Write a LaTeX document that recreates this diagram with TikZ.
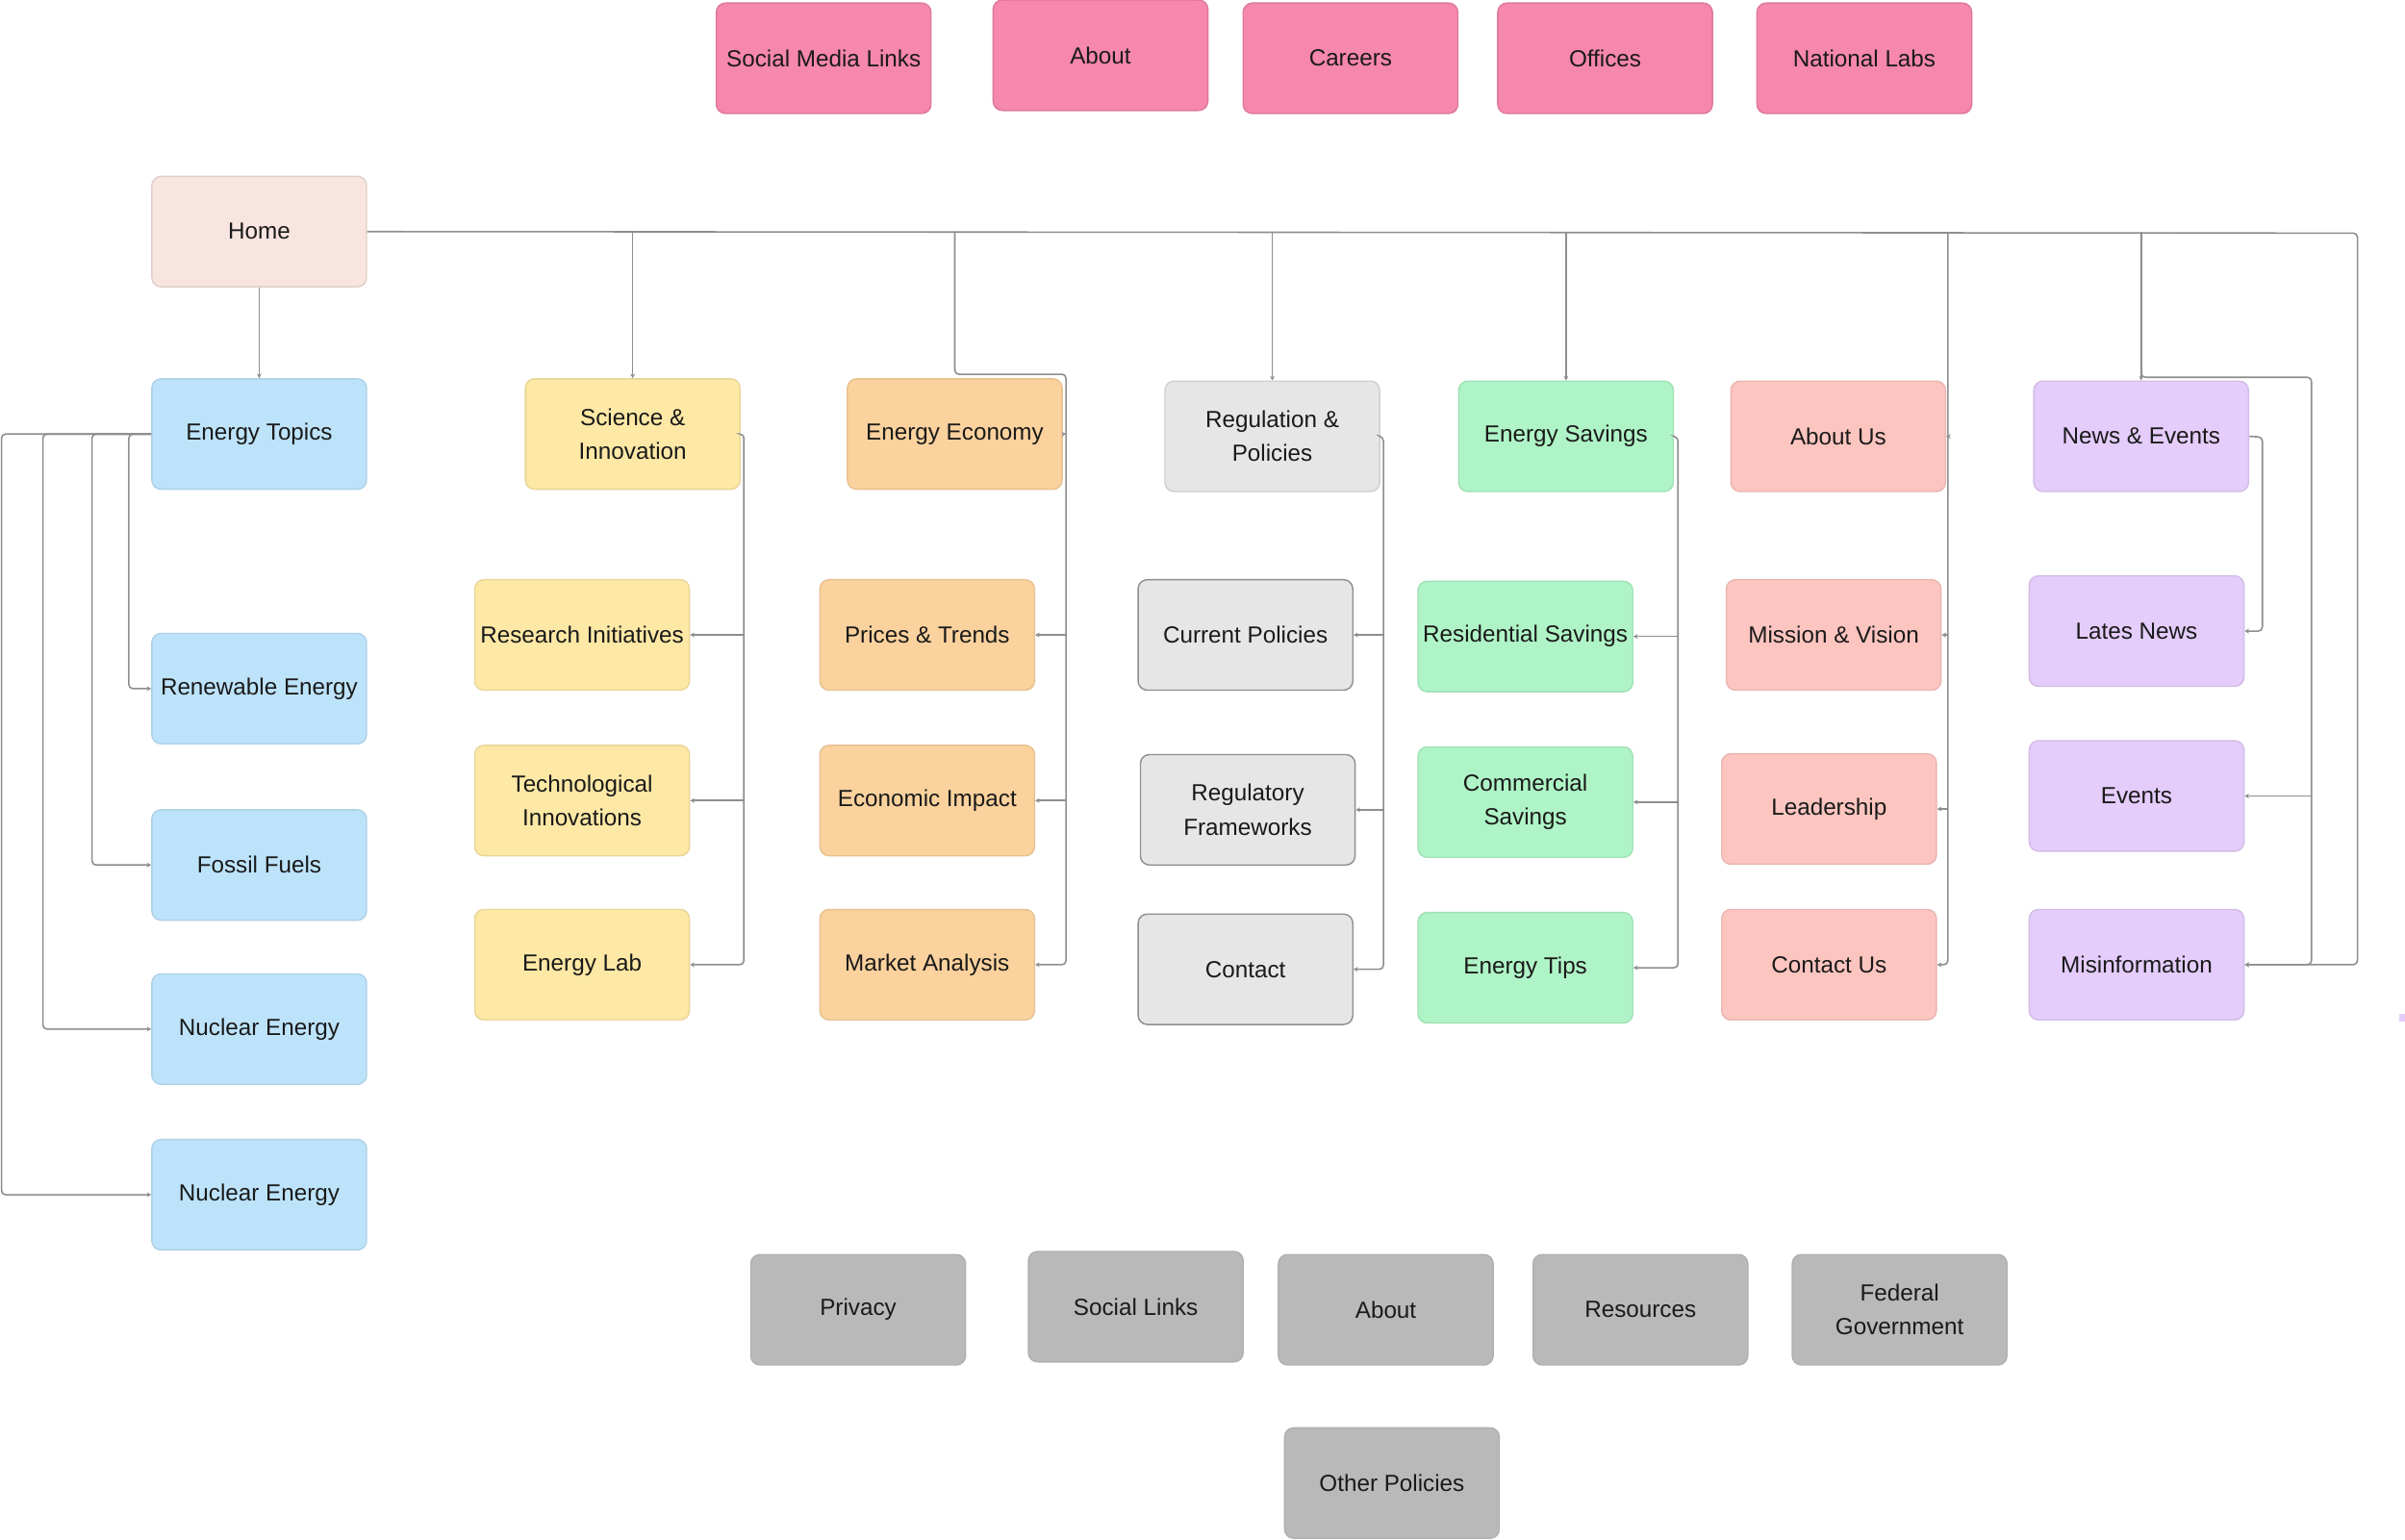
\documentclass[tikz,border=0pt]{standalone}
\usepackage{fontspec}
\setmainfont{Liberation Sans}
\usetikzlibrary{arrows.meta}

\definecolor{ink}{HTML}{1A1A1A}
\definecolor{linegray}{HTML}{8E8E8E}
\definecolor{pinktop}{HTML}{F687AD}
\definecolor{homefill}{HTML}{F8E5E0}
\definecolor{bluefill}{HTML}{BDE3FB}
\definecolor{yellowfill}{HTML}{FDE8A5}
\definecolor{orangefill}{HTML}{FBD29D}
\definecolor{grayfill}{HTML}{E6E6E6}
\definecolor{greenfill}{HTML}{AFF4C6}
\definecolor{salmonfill}{HTML}{FDC5C0}
\definecolor{lavfill}{HTML}{E4CCFB}
\definecolor{footfill}{HTML}{B9B9B9}

\begin{document}
\begin{tikzpicture}[
                x=0.015944cm, y=-0.015944cm,
                box/.style={rounded corners=2.7pt, minimum width=2.232cm, minimum height=1.148cm,
                    inner sep=1pt, align=center, text=ink, line width=0.4pt,
                    font=\fontsize{6.9pt}{10pt}\selectfont},
                pinkbox/.style={box, fill=pinktop, draw=pinktop!90!black},
                homebox/.style={box, fill=homefill, draw=homefill!90!black},
                bluebox/.style={box, fill=bluefill, draw=bluefill!92!black},
                yellowbox/.style={box, fill=yellowfill, draw=yellowfill!92!black},
                orangebox/.style={box, fill=orangefill, draw=orangefill!92!black},
                graybox/.style={box, fill=grayfill, draw=grayfill!90!black},
                policybox/.style={box, fill=grayfill, draw=linegray},
                greenbox/.style={box, fill=greenfill, draw=greenfill!92!black},
                salmonbox/.style={box, fill=salmonfill, draw=salmonfill!92!black},
                lavbox/.style={box, fill=lavfill, draw=lavfill!92!black},
                footbox/.style={box, fill=footfill, draw=footfill!95!black},
                link/.style={draw=linegray, line width=0.45pt, rounded corners=1.2pt,
                    -{Stealth[length=1.3pt, width=1.4pt]}}
            ]

            \fill[white] (0,0) rectangle (1568,1004.1);
            \useasboundingbox (0,0) rectangle (1568,1004.1);

            % header
            \node[pinkbox] (social)  at (537,38)    {Social Media Links};
            \node[pinkbox] (aboutT)  at (717.5,36)  {About};
            \node[pinkbox] (careers) at (880.5,38)  {Careers};
            \node[pinkbox] (offices) at (1046.5,38) {Offices};
            \node[pinkbox] (labs)    at (1215.5,38) {National Labs};

            \node[homebox] (home) at (169,151) {Home};

            \node[bluebox] (topics) at (169,283) {Energy Topics};
            \node[bluebox] (renew)  at (169,449) {Renewable Energy};
            \node[bluebox] (fossil) at (169,564) {Fossil Fuels};
            \node[bluebox] (nuclA)  at (169,671) {Nuclear Energy};
            \node[bluebox] (nuclB)  at (169,779) {Nuclear Energy};

            \node[yellowbox] (sci)      at (412.5,283) {Science \&\\Innovation};
            \node[yellowbox] (research) at (379.5,414) {Research Initiatives};
            \node[yellowbox] (techinn)  at (379.5,522) {Technological\\Innovations};
            \node[yellowbox] (elab)     at (379.5,629) {Energy Lab};

            \node[orangebox] (econ)   at (622.5,283) {Energy Economy};
            \node[orangebox] (prices) at (604.5,414) {Prices \& Trends};
            \node[orangebox] (impact) at (604.5,522) {Economic Impact};
            \node[orangebox] (market) at (604.5,629) {Market Analysis};

            \node[graybox]   (reg)     at (829.5,284.5) {Regulation \&\\Policies};
            \node[policybox] (curpol)  at (812,414)     {Current Policies};
            \node[policybox] (regfw)   at (813.5,528)   {Regulatory\\Frameworks};
            \node[policybox] (contact) at (812,632)     {Contact};

            \node[greenbox] (sav)   at (1021,284.5) {Energy Savings};
            \node[greenbox] (resid) at (994.5,415)  {Residential Savings};
            \node[greenbox] (comm)  at (994.5,523)  {Commercial\\Savings};
            \node[greenbox] (tips)  at (994.5,631)  {Energy Tips};

            \node[salmonbox] (aboutus)   at (1198.5,284.5) {About Us};
            \node[salmonbox] (mission)   at (1195.5,414)   {Mission \& Vision};
            \node[salmonbox] (leader)    at (1192.5,527.5) {Leadership};
            \node[salmonbox] (contactus) at (1192.5,629)   {Contact Us};

            \node[lavbox] (news)    at (1396,284.5) {News \& Events};
            \node[lavbox] (lates)   at (1393,411.5) {Lates News};
            \node[lavbox] (events)  at (1393,519)   {Events};
            \node[lavbox] (misinfo) at (1393,629)   {Misinformation};

            % footer
            \node[footbox] (privacy)   at (559.5,854)  {Privacy};
            \node[footbox] (soclinks)  at (740.5,852)  {Social Links};
            \node[footbox] (aboutB)    at (903.5,854)  {About};
            \node[footbox] (resources) at (1069.5,854) {Resources};
            \node[footbox] (federal)   at (1238.5,854) {Federal\\Government};
            \node[footbox] (other)     at (907.5,967)  {Other Policies};

            \fill[lavfill] (1564,661) rectangle (1568,666);

            % links
            \coordinate (busR)     at (1537,152);
            \coordinate (scibus)   at (485,283);
            \coordinate (econbus)  at (695,244);
            \coordinate (regbus)   at (902,285);
            \coordinate (savbus)   at (1094,285);
            \coordinate (aboutbus) at (1270,152);
            \coordinate (newsbus)  at (1396,152);
            \coordinate (evbus)    at (1507,246);
            \coordinate (newsR)    at (1475,285);

            \draw[link] (home.south) -- (topics.north);
            \draw[link] (home.east) -- (busR) |- (misinfo.east);

            \foreach \p in {sci, reg, sav, news}
                \draw[link] (\p.north |- home.east) -- (\p.north);

            \foreach \x/\c in {84/renew, 60/fossil, 28/nuclA, 1/nuclB}
                \draw[link] (topics.west) -- (\x,283) |- (\c.west);

            \draw[link] (sci.east) -- (scibus) |- (elab.east);
            \foreach \c in {research, techinn}
                \draw[link] (scibus |- \c.east) -- (\c.east);

            \draw[link] (econ.north |- home.east) |- (econbus) |- (market.east);
            \draw[link] (econ.east) -- (econ.east -| econbus);
            \foreach \c in {prices, impact}
                \draw[link] (econbus |- \c.east) -- (\c.east);

            \draw[link] (reg.east) -- (regbus) |- (contact.east);
            \foreach \c in {curpol, regfw}
                \draw[link] (regbus |- \c.east) -- (\c.east);

            \draw[link] (sav.east) -- (savbus) |- (tips.east);
            \foreach \c in {resid, comm}
                \draw[link] (savbus |- \c.east) -- (\c.east);

            \draw[link] (aboutbus) |- (contactus.east);
            \foreach \c in {aboutus, mission, leader}
                \draw[link] (aboutbus |- \c.east) -- (\c.east);

            \draw[link] (newsbus) |- (evbus) |- (misinfo.east);
            \draw[link] (evbus |- events.east) -- (events.east);
            \draw[link] (news.east) -- (newsR) |- (lates.east);

        \end{tikzpicture}
\end{document}
